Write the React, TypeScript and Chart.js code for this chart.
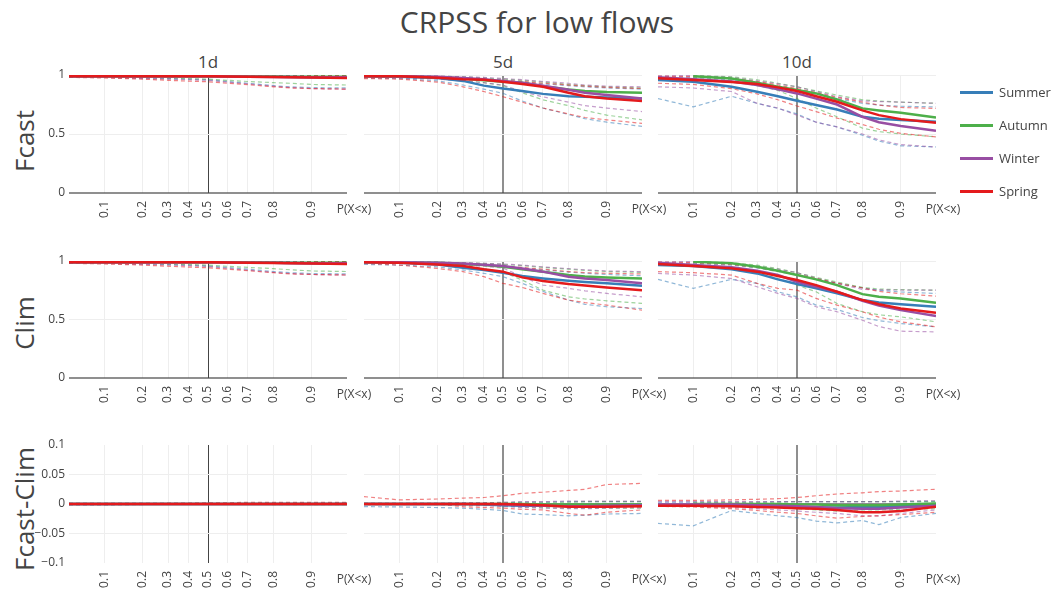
import React, { useEffect, useRef } from 'react';
import { Chart, registerables } from 'chart.js';

Chart.register(...registerables);

// ---------- categories / labels ----------
const PROBS = [0.05, 0.1, 0.2, 0.3, 0.4, 0.5, 0.6, 0.7, 0.8, 0.85, 0.9, 0.95];
const X_TICK_PROBS = [0.1, 0.2, 0.3, 0.4, 0.5, 0.6, 0.7, 0.8, 0.9];
const X_TICK_LABELS = ['0.1', '0.2', '0.3', '0.4', '0.5', '0.6', '0.7', '0.8', '0.9'];
const X_END_LABEL = 'P(X<x)';
const SEASONS = ['Summer', 'Autumn', 'Winter', 'Spring'];
const SEASON_COLORS = ['#377eb8', '#4daf4a', '#984ea3', '#e41a1c'];
const LEAD_TIMES = ['1d', '5d', '10d'];
const ROW_NAMES = ['Fcast', 'Clim', 'Fcast-Clim'];
const SKILL_TICKS = [0, 0.5, 1];
const SKILL_TICK_LABELS = ['0', '0.5', '1'];
const DIFF_TICKS = [-0.1, -0.05, 0, 0.05, 0.1];
const DIFF_TICK_LABELS = ['\u22120.1', '\u22120.05', '0', '0.05', '0.1'];
const MAIN_TITLE = 'CRPSS for low flows';

// ---------- series values: [median, lower, upper] per season ----------
// Fcast 1d
const FCAST_1D_SUMMER = [
  [0.99, 0.99, 0.99, 0.99, 0.99, 0.99, 0.99, 0.985, 0.985, 0.982, 0.98, 0.98],
  [0.98, 0.98, 0.975, 0.97, 0.965, 0.96, 0.945, 0.93, 0.91, 0.9, 0.893, 0.89],
  [0.995, 0.995, 0.995, 0.995, 0.995, 0.995, 0.995, 0.995, 0.995, 0.995, 0.995, 0.995],
];
const FCAST_1D_AUTUMN = [
  [0.99, 0.99, 0.99, 0.99, 0.99, 0.99, 0.99, 0.988, 0.987, 0.986, 0.985, 0.985],
  [0.985, 0.98, 0.98, 0.975, 0.97, 0.965, 0.955, 0.945, 0.935, 0.93, 0.92, 0.915],
  [0.997, 0.997, 0.997, 0.997, 0.997, 0.997, 0.997, 0.997, 0.997, 0.997, 0.997, 0.997],
];
const FCAST_1D_WINTER = [
  [0.99, 0.99, 0.99, 0.99, 0.99, 0.99, 0.988, 0.986, 0.984, 0.982, 0.98, 0.98],
  [0.98, 0.98, 0.97, 0.965, 0.96, 0.955, 0.94, 0.925, 0.905, 0.895, 0.885, 0.88],
  [0.995, 0.995, 0.995, 0.995, 0.995, 0.995, 0.995, 0.994, 0.993, 0.993, 0.993, 0.993],
];
const FCAST_1D_SPRING = [
  [0.99, 0.99, 0.99, 0.99, 0.99, 0.99, 0.988, 0.985, 0.982, 0.98, 0.978, 0.975],
  [0.98, 0.975, 0.965, 0.955, 0.948, 0.943, 0.93, 0.918, 0.9, 0.89, 0.885, 0.88],
  [0.995, 0.995, 0.995, 0.995, 0.995, 0.995, 0.995, 0.995, 0.995, 0.995, 0.995, 0.995],
];
// Fcast 5d
const FCAST_5D_SUMMER = [
  [0.99, 0.985, 0.975, 0.95, 0.91, 0.885, 0.865, 0.84, 0.82, 0.815, 0.81, 0.8],
  [0.975, 0.97, 0.95, 0.915, 0.88, 0.845, 0.78, 0.72, 0.665, 0.63, 0.6, 0.565],
  [0.99, 0.99, 0.985, 0.975, 0.965, 0.955, 0.94, 0.925, 0.91, 0.9, 0.89, 0.88],
];
const FCAST_5D_AUTUMN = [
  [0.99, 0.99, 0.98, 0.97, 0.955, 0.943, 0.935, 0.905, 0.878, 0.865, 0.855, 0.85],
  [0.985, 0.98, 0.97, 0.955, 0.935, 0.91, 0.85, 0.79, 0.74, 0.7, 0.66, 0.62],
  [0.995, 0.995, 0.99, 0.985, 0.975, 0.965, 0.955, 0.94, 0.92, 0.91, 0.9, 0.89],
];
const FCAST_5D_WINTER = [
  [0.99, 0.99, 0.985, 0.975, 0.965, 0.95, 0.935, 0.91, 0.875, 0.85, 0.83, 0.8],
  [0.98, 0.975, 0.965, 0.95, 0.935, 0.915, 0.86, 0.815, 0.77, 0.74, 0.72, 0.69],
  [0.995, 0.995, 0.99, 0.985, 0.98, 0.97, 0.96, 0.945, 0.93, 0.915, 0.905, 0.9],
];
const FCAST_5D_SPRING = [
  [0.99, 0.99, 0.977, 0.965, 0.96, 0.943, 0.924, 0.9, 0.85, 0.82, 0.8, 0.78],
  [0.97, 0.965, 0.94, 0.9, 0.86, 0.816, 0.77, 0.72, 0.67, 0.64, 0.62, 0.59],
  [0.99, 0.99, 0.985, 0.975, 0.965, 0.955, 0.945, 0.93, 0.915, 0.905, 0.895, 0.885],
];
// Fcast 10d
const FCAST_10D_SUMMER = [
  [0.958, 0.943, 0.9, 0.858, 0.82, 0.782, 0.745, 0.708, 0.646, 0.63, 0.618, 0.603],
  [0.8, 0.73, 0.82, 0.76, 0.717, 0.67, 0.6, 0.56, 0.49, 0.44, 0.4, 0.39],
  [0.985, 0.98, 0.96, 0.93, 0.9, 0.87, 0.84, 0.8, 0.76, 0.745, 0.735, 0.73],
];
const FCAST_10D_AUTUMN = [
  [null, 0.99, 0.97, 0.935, 0.9, 0.873, 0.844, 0.793, 0.717, 0.7, 0.68, 0.64],
  [null, 0.97, 0.95, 0.91, 0.87, 0.8, 0.72, 0.646, 0.55, 0.52, 0.5, 0.476],
  [null, 0.995, 0.985, 0.96, 0.93, 0.9, 0.865, 0.83, 0.79, 0.78, 0.77, 0.76],
];
const FCAST_10D_WINTER = [
  [0.98, 0.965, 0.945, 0.915, 0.88, 0.844, 0.8, 0.75, 0.646, 0.6, 0.567, 0.527],
  [0.9, 0.89, 0.86, 0.76, 0.72, 0.66, 0.6, 0.56, 0.5, 0.45, 0.41, 0.39],
  [1.0, 0.995, 0.98, 0.95, 0.925, 0.9, 0.86, 0.816, 0.78, 0.775, 0.77, 0.76],
];
const FCAST_10D_SPRING = [
  [0.972, 0.958, 0.94, 0.924, 0.895, 0.864, 0.82, 0.773, 0.7, 0.66, 0.626, 0.595],
  [0.93, 0.92, 0.885, 0.84, 0.79, 0.737, 0.69, 0.635, 0.58, 0.54, 0.505, 0.476],
  [0.99, 0.985, 0.97, 0.945, 0.915, 0.885, 0.85, 0.81, 0.77, 0.745, 0.725, 0.717],
];
// Clim 1d
const CLIM_1D_SUMMER = [
  [0.99, 0.99, 0.99, 0.99, 0.99, 0.99, 0.99, 0.986, 0.985, 0.982, 0.98, 0.98],
  [0.98, 0.98, 0.975, 0.97, 0.965, 0.958, 0.945, 0.93, 0.91, 0.9, 0.893, 0.89],
  [0.995, 0.995, 0.995, 0.995, 0.995, 0.995, 0.995, 0.995, 0.995, 0.995, 0.995, 0.995],
];
const CLIM_1D_AUTUMN = [
  [0.99, 0.99, 0.99, 0.99, 0.99, 0.99, 0.99, 0.988, 0.987, 0.986, 0.985, 0.985],
  [0.985, 0.98, 0.98, 0.975, 0.97, 0.965, 0.955, 0.945, 0.935, 0.925, 0.915, 0.91],
  [0.997, 0.997, 0.997, 0.997, 0.997, 0.997, 0.997, 0.997, 0.997, 0.997, 0.997, 0.997],
];
const CLIM_1D_WINTER = [
  [0.99, 0.99, 0.99, 0.99, 0.99, 0.99, 0.988, 0.986, 0.984, 0.982, 0.98, 0.98],
  [0.98, 0.98, 0.97, 0.965, 0.96, 0.953, 0.938, 0.922, 0.903, 0.893, 0.885, 0.88],
  [0.995, 0.995, 0.995, 0.995, 0.995, 0.995, 0.995, 0.994, 0.993, 0.993, 0.993, 0.993],
];
const CLIM_1D_SPRING = [
  [0.99, 0.99, 0.99, 0.99, 0.99, 0.99, 0.988, 0.985, 0.982, 0.98, 0.978, 0.975],
  [0.98, 0.975, 0.965, 0.955, 0.948, 0.942, 0.93, 0.917, 0.9, 0.89, 0.885, 0.88],
  [0.995, 0.995, 0.995, 0.995, 0.995, 0.995, 0.995, 0.995, 0.995, 0.995, 0.995, 0.995],
];
// Clim 5d
const CLIM_5D_SUMMER = [
  [0.989, 0.985, 0.971, 0.943, 0.923, 0.9, 0.871, 0.851, 0.831, 0.82, 0.809, 0.789],
  [0.971, 0.965, 0.95, 0.923, 0.895, 0.866, 0.809, 0.74, 0.666, 0.63, 0.609, 0.594],
  [0.99, 0.99, 0.985, 0.975, 0.965, 0.955, 0.94, 0.925, 0.905, 0.895, 0.885, 0.874],
];
const CLIM_5D_AUTUMN = [
  [0.989, 0.988, 0.985, 0.975, 0.965, 0.951, 0.929, 0.909, 0.88, 0.868, 0.86, 0.851],
  [0.985, 0.98, 0.97, 0.955, 0.935, 0.905, 0.837, 0.751, 0.694, 0.675, 0.66, 0.637],
  [0.995, 0.995, 0.99, 0.985, 0.98, 0.97, 0.96, 0.945, 0.93, 0.92, 0.91, 0.903],
];
const CLIM_5D_WINTER = [
  [0.99, 0.99, 0.985, 0.978, 0.968, 0.957, 0.935, 0.909, 0.866, 0.85, 0.837, 0.809],
  [0.985, 0.98, 0.975, 0.965, 0.955, 0.94, 0.866, 0.794, 0.766, 0.745, 0.723, 0.694],
  [0.995, 0.995, 0.99, 0.985, 0.98, 0.975, 0.965, 0.95, 0.935, 0.925, 0.915, 0.909],
];
const CLIM_5D_SPRING = [
  [0.989, 0.985, 0.971, 0.957, 0.929, 0.909, 0.86, 0.829, 0.803, 0.79, 0.774, 0.751],
  [0.98, 0.965, 0.937, 0.909, 0.866, 0.809, 0.774, 0.723, 0.666, 0.645, 0.623, 0.58],
  [0.99, 0.99, 0.985, 0.975, 0.965, 0.955, 0.945, 0.93, 0.91, 0.9, 0.895, 0.889],
];
// Clim 10d
const CLIM_10D_SUMMER = [
  [0.966, 0.957, 0.929, 0.894, 0.843, 0.803, 0.766, 0.723, 0.666, 0.645, 0.631, 0.609],
  [0.843, 0.766, 0.843, 0.809, 0.737, 0.694, 0.623, 0.586, 0.517, 0.49, 0.466, 0.437],
  [0.985, 0.98, 0.965, 0.94, 0.91, 0.88, 0.845, 0.81, 0.77, 0.75, 0.735, 0.723],
];
const CLIM_10D_AUTUMN = [
  [null, 0.994, 0.98, 0.951, 0.917, 0.88, 0.843, 0.794, 0.717, 0.695, 0.68, 0.643],
  [null, 0.97, 0.94, 0.9, 0.85, 0.794, 0.737, 0.637, 0.566, 0.54, 0.523, 0.48],
  [null, 0.995, 0.985, 0.965, 0.935, 0.9, 0.86, 0.82, 0.774, 0.76, 0.755, 0.751],
];
const CLIM_10D_WINTER = [
  [0.986, 0.966, 0.946, 0.917, 0.88, 0.823, 0.78, 0.737, 0.66, 0.62, 0.58, 0.529],
  [0.894, 0.88, 0.85, 0.78, 0.723, 0.68, 0.609, 0.566, 0.494, 0.44, 0.4, 0.394],
  [1.0, 0.995, 0.98, 0.955, 0.93, 0.9, 0.855, 0.809, 0.757, 0.753, 0.752, 0.751],
];
const CLIM_10D_SPRING = [
  [0.974, 0.957, 0.937, 0.909, 0.871, 0.837, 0.794, 0.737, 0.666, 0.63, 0.594, 0.557],
  [0.909, 0.9, 0.88, 0.809, 0.766, 0.751, 0.68, 0.623, 0.566, 0.52, 0.48, 0.437],
  [0.99, 0.985, 0.97, 0.945, 0.915, 0.885, 0.85, 0.81, 0.77, 0.74, 0.72, 0.7],
];
// Fcast-Clim 1d
const DIFF_1D_SUMMER = [
  [0, 0, 0, 0, 0, 0, 0, 0, 0, 0, 0, 0],
  [-0.002, -0.002, -0.001, 0, 0, 0, 0, 0, 0, 0, 0, 0],
  [0.001, 0.001, 0.001, 0.001, 0.001, 0.001, 0.001, 0.001, 0.001, 0.001, 0.001, 0.001],
];
const DIFF_1D_AUTUMN = [
  [0, 0, 0, 0, 0, 0, 0, 0, 0, 0, 0, 0],
  [0, 0, 0, 0, 0, 0, 0, 0, -0.001, -0.001, -0.001, -0.001],
  [0.001, 0.001, 0.001, 0.001, 0.001, 0.001, 0.001, 0.002, 0.002, 0.002, 0.002, 0.002],
];
const DIFF_1D_WINTER = [
  [0, 0, 0, 0, 0, 0, 0, 0, 0, 0, 0, 0],
  [0, 0, 0, 0, 0, 0, 0, 0, 0, 0, 0, 0],
  [0.001, 0.001, 0.001, 0.001, 0.001, 0.001, 0.001, 0.001, 0.002, 0.002, 0.002, 0.002],
];
const DIFF_1D_SPRING = [
  [0, 0, 0, 0, 0, 0, 0, 0, 0, 0, 0, 0],
  [0, 0, 0, 0, 0, 0, 0, 0, 0, 0, 0, 0],
  [0, 0, 0, 0.001, 0.001, 0.002, 0.002, 0.003, 0.003, 0.003, 0.003, 0.003],
];
// Fcast-Clim 5d
const DIFF_5D_SUMMER = [
  [0, 0, 0, 0, -0.001, -0.002, -0.003, -0.003, -0.003, -0.003, -0.003, -0.003],
  [-0.0045, -0.005, -0.006, -0.007, -0.009, -0.011, -0.017, -0.018, -0.02, -0.019, -0.017, -0.016],
  [0.001, 0.001, 0.001, 0.002, 0.002, 0.002, 0.003, 0.003, 0.004, 0.004, 0.004, 0.004],
];
const DIFF_5D_AUTUMN = [
  [0, 0, 0, 0, 0, 0, 0, -0.001, -0.001, -0.001, -0.001, -0.001],
  [0, 0, 0, -0.001, -0.002, -0.003, -0.005, -0.006, -0.007, -0.007, -0.007, -0.007],
  [0.001, 0.001, 0.001, 0.001, 0.002, 0.002, 0.003, 0.003, 0.003, 0.004, 0.004, 0.004],
];
const DIFF_5D_WINTER = [
  [0, 0, 0, 0, 0, -0.001, -0.002, -0.003, -0.004, -0.004, -0.003, -0.002],
  [0, 0, -0.001, -0.002, -0.003, -0.004, -0.006, -0.007, -0.008, -0.008, -0.007, -0.006],
  [0.001, 0.001, 0.001, 0.002, 0.002, 0.003, 0.004, 0.004, 0.005, 0.005, 0.005, 0.005],
];
const DIFF_5D_SPRING = [
  [0, 0, 0, 0, 0, 0, -0.001, -0.002, -0.0045, -0.0045, -0.0045, -0.004],
  [0, 0, 0, -0.0045, -0.006, -0.007, -0.009, -0.01, -0.016, -0.019, -0.014, -0.01],
  [0.0125, 0.007, 0.0085, 0.01, 0.011, 0.014, 0.018, 0.02, 0.023, 0.025, 0.033, 0.035],
];
// Fcast-Clim 10d
const DIFF_10D_SUMMER = [
  [-0.002, -0.002, -0.002, -0.003, -0.004, -0.005, -0.006, -0.006, -0.005, -0.005, -0.004, -0.002],
  [-0.033, -0.037, -0.011, -0.016, -0.02, -0.023, -0.029, -0.032, -0.028, -0.035, -0.023, -0.016],
  [0.003, 0.003, 0.003, 0.003, 0.004, 0.004, 0.004, 0.004, 0.004, 0.004, 0.004, 0.004],
];
const DIFF_10D_AUTUMN = [
  [null, 0, 0, 0, 0, -0.001, -0.001, -0.002, -0.002, -0.002, -0.001, 0.001],
  [null, -0.002, -0.003, -0.005, -0.006, -0.008, -0.01, -0.012, -0.01, -0.01, -0.009, -0.008],
  [null, 0.003, 0.003, 0.003, 0.003, 0.004, 0.004, 0.004, 0.004, 0.004, 0.004, 0.004],
];
const DIFF_10D_WINTER = [
  [-0.001, -0.001, -0.001, -0.002, -0.003, -0.004, -0.005, -0.007, -0.008, -0.008, -0.006, -0.003],
  [-0.003, -0.004, -0.006, -0.008, -0.01, -0.012, -0.014, -0.016, -0.02, -0.02, -0.016, -0.01],
  [0.004, 0.004, 0.004, 0.004, 0.004, 0.004, 0.004, 0.004, 0.004, 0.004, 0.005, 0.006],
];
const DIFF_10D_SPRING = [
  [-0.003, -0.003, -0.004, -0.005, -0.006, -0.007, -0.008, -0.01, -0.014, -0.014, -0.012, -0.0045],
  [-0.004, -0.005, -0.008, -0.011, -0.014, -0.016, -0.02, -0.024, -0.021, -0.02, -0.018, -0.014],
  [0.006, 0.006, 0.007, 0.008, 0.009, 0.011, 0.014, 0.017, 0.019, 0.021, 0.022, 0.025],
];

const PANEL_DATA = [
  [
    [FCAST_1D_SUMMER, FCAST_1D_AUTUMN, FCAST_1D_WINTER, FCAST_1D_SPRING],
    [FCAST_5D_SUMMER, FCAST_5D_AUTUMN, FCAST_5D_WINTER, FCAST_5D_SPRING],
    [FCAST_10D_SUMMER, FCAST_10D_AUTUMN, FCAST_10D_WINTER, FCAST_10D_SPRING],
  ],
  [
    [CLIM_1D_SUMMER, CLIM_1D_AUTUMN, CLIM_1D_WINTER, CLIM_1D_SPRING],
    [CLIM_5D_SUMMER, CLIM_5D_AUTUMN, CLIM_5D_WINTER, CLIM_5D_SPRING],
    [CLIM_10D_SUMMER, CLIM_10D_AUTUMN, CLIM_10D_WINTER, CLIM_10D_SPRING],
  ],
  [
    [DIFF_1D_SUMMER, DIFF_1D_AUTUMN, DIFF_1D_WINTER, DIFF_1D_SPRING],
    [DIFF_5D_SUMMER, DIFF_5D_AUTUMN, DIFF_5D_WINTER, DIFF_5D_SPRING],
    [DIFF_10D_SUMMER, DIFF_10D_AUTUMN, DIFF_10D_WINTER, DIFF_10D_SPRING],
  ],
];

// ---------- layout ----------
const COL_LEFT = [69, 364, 658];
const PLOT_W = 278;
const ROW_TOP = [75, 261, 445];
const ROW_H = [118, 117, 118];
const YW = 60;
const PADT = 12;
const PADR = 48;
const XH = 44;
const FONT = '"Open Sans", "Noto Sans", sans-serif';
const TEXT = '#444444';

const logit = (p: number) => Math.log(p / (1 - p));

function rgba(hex: string, a: number) {
  const n = parseInt(hex.slice(1), 16);
  return `rgba(${(n >> 16) & 255},${(n >> 8) & 255},${n & 255},${a})`;
}

type PanelProps = { row: number; col: number };

function Panel({ row, col }: PanelProps) {
  const ref = useRef<HTMLCanvasElement | null>(null);
  const isDiff = row === 2;
  const yTicks = isDiff ? DIFF_TICKS : SKILL_TICKS;
  const yLabels = isDiff ? DIFF_TICK_LABELS : SKILL_TICK_LABELS;
  const h = ROW_H[row];
  const width = YW + PLOT_W + PADR;
  const height = PADT + h + XH;

  useEffect(() => {
    const seasons = PANEL_DATA[row][col];
    const toPts = (arr: (number | null)[]) => arr.map((v, j) => ({ x: logit(PROBS[j]), y: v }));
    // Chart.js paints dataset 0 last (on top): list solids first, Spring first.
    const datasets: any[] = [];
    for (let i = seasons.length - 1; i >= 0; i--) {
      datasets.push({
        label: SEASONS[i],
        data: toPts(seasons[i][0]),
        borderColor: SEASON_COLORS[i],
        borderWidth: 2.5,
        pointRadius: 0,
        fill: false,
        tension: 0,
      });
    }
    for (let i = seasons.length - 1; i >= 0; i--) {
      [seasons[i][1], seasons[i][2]].forEach((arr) => {
        datasets.push({
          data: toPts(arr),
          borderColor: rgba(SEASON_COLORS[i], 0.55),
          borderWidth: 1.2,
          borderDash: [4, 3],
          pointRadius: 0,
          fill: false,
          tension: 0,
        });
      });
    }

    const zeroX = col === 0 ? { c: '#444444', w: 1 } : { c: 'rgba(68,68,68,0.6)', w: 2 };

    const chart = new Chart(ref.current as HTMLCanvasElement, {
      type: 'line',
      data: { datasets },
      options: {
        responsive: false,
        animation: false,
        events: [],
        layout: { padding: { top: PADT, right: PADR, left: 0, bottom: 0 } },
        plugins: { legend: { display: false }, tooltip: { enabled: false } },
        scales: {
          x: {
            type: 'linear',
            min: logit(PROBS[0]),
            max: logit(PROBS[PROBS.length - 1]),
            afterBuildTicks: (scale: any) => {
              scale.ticks = X_TICK_PROBS.map((p) => ({ value: logit(p) }));
            },
            afterFit: (scale: any) => {
              scale.height = XH;
            },
            ticks: {
              autoSkip: false,
              minRotation: 90,
              maxRotation: 90,
              padding: 8,
              color: TEXT,
              font: { family: FONT, size: 12 },
              callback: (value: any) => {
                const i = X_TICK_PROBS.findIndex((p) => Math.abs(logit(p) - value) < 1e-6);
                return i >= 0 ? X_TICK_LABELS[i] : '';
              },
            },
            grid: {
              drawTicks: false,
              color: (ctx: any) => (ctx.tick && Math.abs(ctx.tick.value) < 1e-9 ? zeroX.c : '#eeeeee'),
              lineWidth: (ctx: any) => (ctx.tick && Math.abs(ctx.tick.value) < 1e-9 ? zeroX.w : 1),
            },
            border: { display: false },
          },
          y: {
            type: 'linear',
            min: yTicks[0],
            max: yTicks[yTicks.length - 1],
            afterBuildTicks: (scale: any) => {
              scale.ticks = yTicks.map((v) => ({ value: v }));
            },
            afterFit: (scale: any) => {
              scale.width = YW;
            },
            ticks: {
              display: col === 0,
              padding: 4,
              color: TEXT,
              font: { family: FONT, size: 12 },
              callback: (value: any) => {
                const i = yTicks.findIndex((v) => Math.abs(v - value) < 1e-9);
                return i >= 0 ? yLabels[i] : '';
              },
            },
            grid: {
              drawTicks: false,
              color: (ctx: any) => {
                const v = ctx.tick ? ctx.tick.value : NaN;
                if (Math.abs(v) < 1e-9) return 'rgba(68,68,68,0.6)';
                if (isDiff && Math.abs(Math.abs(v) - 0.1) < 1e-9) return 'rgba(0,0,0,0)';
                return '#eeeeee';
              },
              lineWidth: (ctx: any) => (ctx.tick && Math.abs(ctx.tick.value) < 1e-9 ? 2 : 1),
            },
            border: { display: false },
          },
        },
      },
      plugins: [
        {
          id: 'endLabel',
          afterDraw(c: any) {
            const { ctx, chartArea } = c;
            ctx.save();
            ctx.font = `12px ${FONT}`;
            ctx.fillStyle = TEXT;
            ctx.textAlign = 'center';
            ctx.textBaseline = 'middle';
            ctx.fillText(X_END_LABEL, chartArea.right + 7, chartArea.bottom + 17);
            ctx.restore();
          },
        },
      ],
    } as any);
    return () => chart.destroy();
  }, [row, col]);

  return (
    <canvas
      ref={ref}
      width={width}
      height={height}
      style={{
        position: 'absolute',
        left: COL_LEFT[col] - YW,
        top: ROW_TOP[row] - PADT,
        width,
        height,
      }}
    />
  );
}

function Label({ x, y, size, text, rotate }: { x: number; y: number; size: number; text: string; rotate?: boolean }) {
  return (
    <div
      style={{
        position: 'absolute',
        left: x,
        top: y,
        transform: `translate(-50%, -50%)${rotate ? ' rotate(-90deg)' : ''}`,
        fontSize: size,
        lineHeight: 1,
        whiteSpace: 'nowrap',
        color: TEXT,
        fontFamily: FONT,
      }}
    >
      {text}
    </div>
  );
}

const COL_TITLE_X = [208, 503, 797];
const ROW_TITLE_Y = [141, 323, 509];
const LEGEND_Y = [92, 125, 158, 191];

export default function App() {
  return (
    <div
      style={{
        position: 'absolute',
        left: 0,
        top: 0,
        width: 1056,
        height: 591,
        overflow: 'hidden',
        background: '#ffffff',
        fontFamily: FONT,
      }}
    >
      <Label x={537} y={22} size={30} text={MAIN_TITLE} />
      {LEAD_TIMES.map((t, i) => (
        <Label key={t} x={COL_TITLE_X[i]} y={61} size={17} text={t} />
      ))}
      {ROW_NAMES.map((t, i) => (
        <Label key={t} x={24} y={ROW_TITLE_Y[i]} size={26} text={t} rotate />
      ))}
      {[0, 1, 2].map((r) => [0, 1, 2].map((c) => <Panel key={`${r}-${c}`} row={r} col={c} />))}
      {SEASONS.map((s, i) => (
        <div key={s} style={{ position: 'absolute', left: 960, top: LEGEND_Y[i] - 10, height: 20, width: 96 }}>
          <div
            style={{
              position: 'absolute',
              left: 0,
              top: 9,
              width: 33,
              height: 3,
              background: SEASON_COLORS[i],
            }}
          />
          <div
            style={{
              position: 'absolute',
              left: 39,
              top: 0,
              lineHeight: '20px',
              fontSize: 13,
              color: TEXT,
              fontFamily: FONT,
              whiteSpace: 'nowrap',
            }}
          >
            {s}
          </div>
        </div>
      ))}
    </div>
  );
}
